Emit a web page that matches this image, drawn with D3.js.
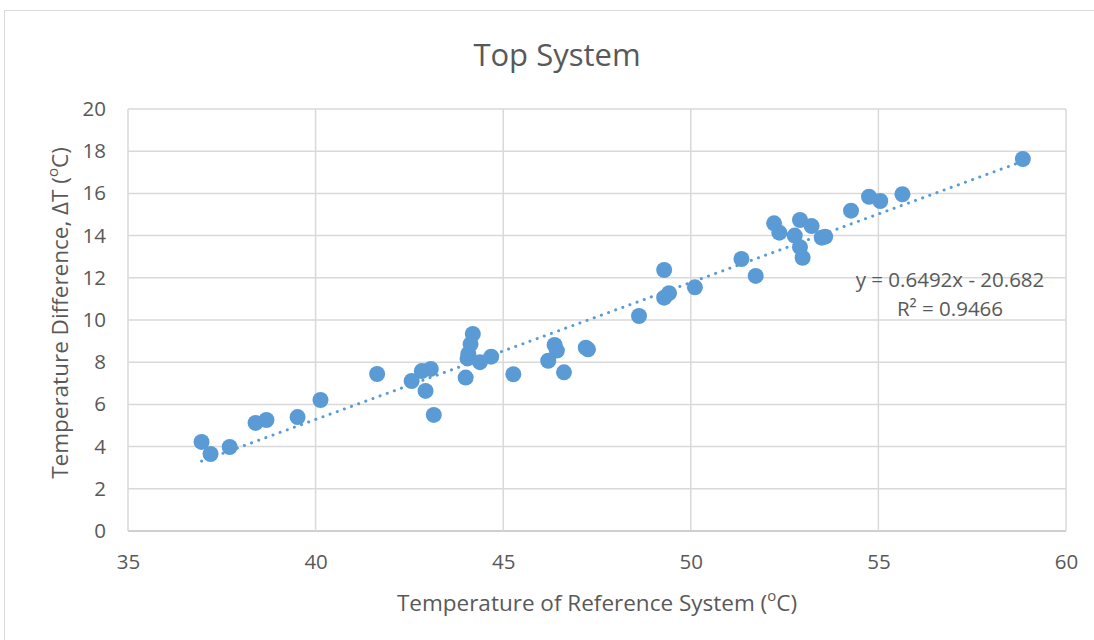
<!DOCTYPE html>
<html><head><meta charset="utf-8">
<script src="https://cdn.jsdelivr.net/npm/d3@7"></script>
<style>body{margin:0;background:#fff}svg{display:block}text{font-family:"Open Sans",sans-serif;fill:#595959}</style>
</head><body><svg id="c" width="1094" height="640"></svg>
<script>
const xVals = [36.96,37.2,37.71,38.4,38.69,39.52,40.13,41.64,42.56,42.83,42.93,43.07,43.15,44.19,44.13,44.07,44.05,44.0,44.38,44.68,45.27,46.37,46.43,46.2,46.62,47.2,47.26,48.62,49.29,49.42,49.29,50.11,51.35,51.73,52.22,52.36,52.91,53.22,52.77,52.91,52.98,53.49,53.58,54.27,54.75,55.05,55.64,58.85];
const yVals = [4.22,3.65,3.98,5.12,5.26,5.40,6.21,7.44,7.11,7.58,6.64,7.68,5.50,9.34,8.86,8.39,8.18,7.27,8.0,8.26,7.43,8.82,8.55,8.07,7.52,8.69,8.61,10.19,12.37,11.27,11.06,11.55,12.89,12.09,14.58,14.14,14.74,14.45,14.0,13.45,12.95,13.9,13.95,15.18,15.84,15.64,15.96,17.63];
const xTicks = [35,40,45,50,55,60];
const yTicks = [0,2,4,6,8,10,12,14,16,18,20];
const slope = 0.6492, intercept = -20.682;
const eqLabel = "y = 0.6492x - 20.682";
const r2Label = "R² = 0.9466";
const title = "Top System";

const svg = d3.select("#c");
svg.append("rect").attr("x",4.5).attr("y",10.5).attr("width",1100).attr("height",640).attr("fill","#fff").attr("stroke","#d9d9d9");
const x = d3.scaleLinear().domain([35,60]).range([128,1066]);
const y = d3.scaleLinear().domain([0,20]).range([531,109]);

const g = svg.append("g");
g.selectAll(".hg").data(yTicks).join("line").attr("x1",128).attr("x2",1066).attr("y1",d=>y(d)).attr("y2",d=>y(d)).attr("stroke",d=>d===0?"#bfbfbf":"#d9d9d9").attr("stroke-width",1.5);
g.selectAll(".vg").data(xTicks).join("line").attr("y1",109).attr("y2",531).attr("x1",d=>x(d)).attr("x2",d=>x(d)).attr("stroke","#d9d9d9").attr("stroke-width",1.5);

const xa = svg.append("g").attr("transform","translate(0,531)").call(d3.axisBottom(x).tickValues(xTicks).tickSize(0).tickPadding(23));
xa.select(".domain").remove();
xa.selectAll("text").attr("font-size",20.5).attr("fill","#595959").style("font-family","'Open Sans',sans-serif");
const ya = svg.append("g").attr("transform","translate(128,0)").call(d3.axisLeft(y).tickValues(yTicks).tickSize(0).tickPadding(22));
ya.select(".domain").remove();
ya.selectAll("text").attr("font-size",20.5).attr("fill","#595959").style("font-family","'Open Sans',sans-serif");

svg.append("g").selectAll("circle").data(xVals).join("circle")
 .attr("cx",d=>x(d)).attr("cy",(d,i)=>y(yVals[i])).attr("r",8).attr("fill","#5b9bd5");

const xmin = d3.min(xVals), xmax = d3.max(xVals);
svg.append("line").attr("x1",x(xmin)).attr("y1",y(slope*xmin+intercept)).attr("x2",x(xmax)).attr("y2",y(slope*xmax+intercept))
 .attr("stroke","#5b9bd5").attr("stroke-width",3).attr("stroke-linecap","round").attr("stroke-dasharray","0.1 7.5");

svg.append("text").attr("x",950).attr("y",287).attr("text-anchor","middle").attr("font-size",20.5).text(eqLabel);
svg.append("text").attr("x",950).attr("y",316).attr("text-anchor","middle").attr("font-size",20.5).text(r2Label);

svg.append("text").attr("x",557).attr("y",66).attr("text-anchor","middle").attr("font-size",31).text(title);
svg.append("text").attr("x",597).attr("y",611).attr("text-anchor","middle").attr("font-size",22.5)
 .html('Temperature of Reference System (<tspan baseline-shift="super" font-size="15">o</tspan>C)');
svg.append("text").attr("transform","translate(68,313) rotate(-90)").attr("text-anchor","middle").attr("font-size",22.5)
 .html('Temperature Difference, ΔT (<tspan baseline-shift="super" font-size="15">o</tspan>C)');
</script></body></html>
